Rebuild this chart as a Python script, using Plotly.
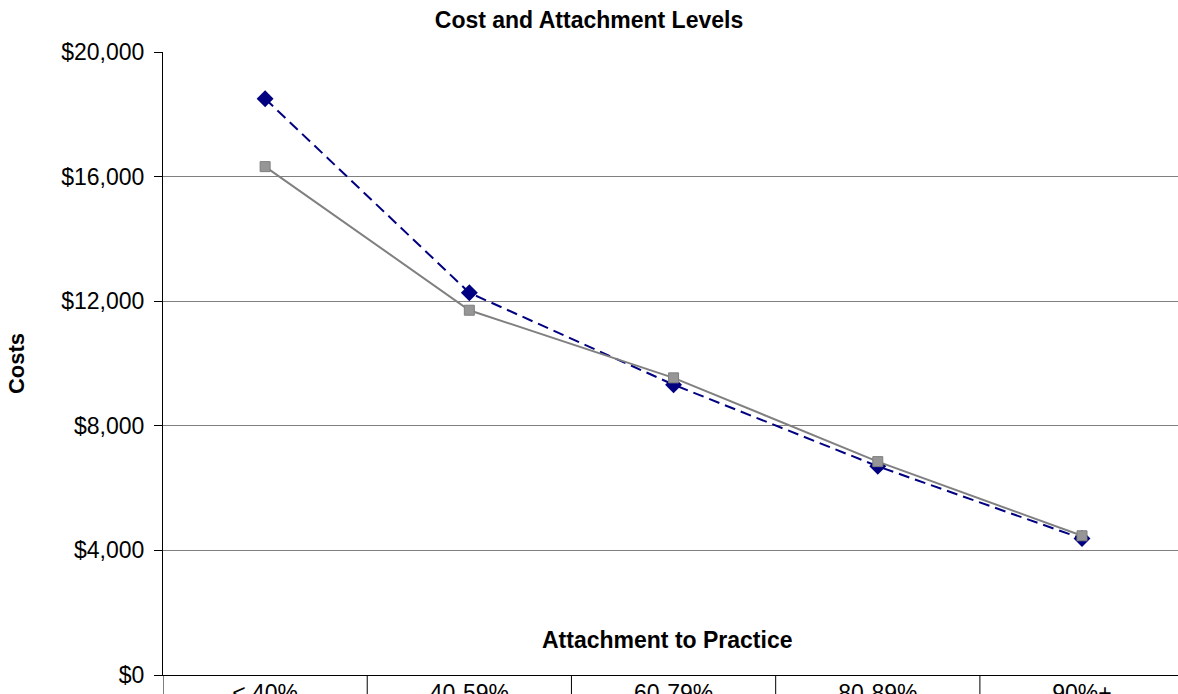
import plotly.graph_objects as go

categories = ["< 40%", "40-59%", "60-79%", "80-89%", "90%+"]
series_a = [18500, 12270, 9320, 6700, 4380]   # navy dashed, diamonds
series_b = [16320, 11710, 9540, 6850, 4470]   # gray solid, squares
y_ticks = [0, 4000, 8000, 12000, 16000, 20000]

FONT = "Liberation Sans, Arial, sans-serif"

fig = go.Figure()
fig.add_trace(go.Scatter(
    x=categories, y=series_a, mode="lines+markers",
    line=dict(color="#000080", width=2, dash="11px,6px"),
    marker=dict(symbol="diamond", size=13, color="#000080"),
    showlegend=False,
))
fig.add_trace(go.Scatter(
    x=categories, y=series_b, mode="lines+markers",
    line=dict(color="#808080", width=2),
    marker=dict(symbol="square", size=10, color="#969696",
                line=dict(color="#7f7f7f", width=1)),
    showlegend=False,
))

# data-table style dividers below the axis
shapes = []
for i in range(len(categories)):
    shapes.append(dict(type="line", xref="x", yref="paper",
                       x0=i - 0.5, x1=i - 0.5, y0=0, y1=-0.1,
                       line=dict(color="black", width=1)))

fig.update_layout(
    width=1178, height=694,
    margin=dict(l=163, r=0, t=52, b=19, autoexpand=False),
    paper_bgcolor="white", plot_bgcolor="white",
    font=dict(family=FONT, size=23, color="black"),
    title=dict(text="<b>Cost and Attachment Levels</b>", x=0.5, xanchor="center",
               y=1 - 19.5 / 694, yanchor="middle",
               font=dict(family=FONT, size=23, color="black"), automargin=False),
    xaxis=dict(type="category", range=[-0.5, 4.47], showgrid=False,
               showline=True, linecolor="black", linewidth=1, automargin=False,
               ticks="", tickfont=dict(size=23), ticklabelstandoff=-3),
    yaxis=dict(range=[0, 20000], tickvals=y_ticks, tickformat="$,.0f",
               showgrid=True, gridcolor="#808080", gridwidth=1,
               showline=True, linecolor="black", linewidth=1, automargin=False,
               ticks="outside", ticklen=8, tickcolor="black",
               tickfont=dict(size=23), ticklabelstandoff=5,
               title=dict(text="<b>Costs</b>", standoff=30,
                          font=dict(size=22)),
               zeroline=False),
    shapes=shapes,
    annotations=[dict(text="<b>Attachment to Practice</b>", xref="paper", yref="paper",
                      x=0.497, y=(675 - 640) / 623, xanchor="center", yanchor="middle",
                      showarrow=False, font=dict(family=FONT, size=23, color="black"))],
)

fig.write_html("out.html", config={"displayModeBar": False},
               post_script="document.body.style.margin='0';document.body.style.overflow='hidden';")
